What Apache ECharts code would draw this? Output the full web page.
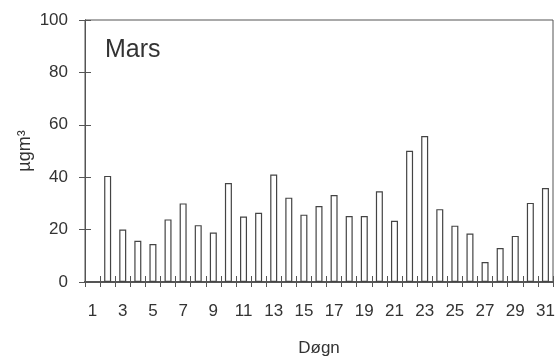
<!DOCTYPE html>
<html>
<head>
<meta charset="utf-8">
<script src="https://cdn.jsdelivr.net/npm/echarts@6/dist/echarts.min.js"></script>
<style>html,body{margin:0;padding:0;background:#fff}#c{width:559px;height:356px}</style>
</head>
<body>
<div id="c"></div>
<script>
const days = ['1','2','3','4','5','6','7','8','9','10','11','12','13','14','15','16','17','18','19','20','21','22','23','24','25','26','27','28','29','30','31'];
const values = [null, 40.5, 20, 15.7, 14.5, 23.9, 30, 21.7, 18.9, 37.8, 25, 26.4, 41, 32.2, 25.7, 29, 33.2, 25.2, 25.2, 34.6, 23.4, 50.1, 55.7, 27.8, 21.5, 18.5, 7.6, 13, 17.6, 30.2, 35.9];
const yTicks = [0, 20, 40, 60, 80, 100];
const title = 'Mars';
const xName = 'Døgn';
const yName = 'µgm³';

const font = 'Liberation Sans, Arial, Helvetica, sans-serif';
const axisColor = '#555';
const textColor = '#333';
const chart = echarts.init(document.getElementById('c'), null, {renderer: 'canvas'});
chart.setOption({
  animation: false,
  backgroundColor: '#fff',
  title: {
    text: title, left: 100, top: 33,
    textStyle: {fontFamily: font, fontSize: 25, fontWeight: 'normal', color: textColor}
  },
  grid: {left: 85, right: 6, top: 20, bottom: 74, containLabel: false, outerBoundsMode: 'none',
    show: true, borderColor: axisColor, borderWidth: 1, backgroundColor: 'transparent'},
  xAxis: [{
    type: 'category', data: days, boundaryGap: true,
    name: xName, nameLocation: 'middle', nameGap: 58, nameMoveOverlap: false,
    nameTextStyle: {fontFamily: font, fontSize: 17, color: textColor},
    axisLine: {show: true, lineStyle: {color: axisColor, width: 2}},
    axisTick: {show: true, inside: false, length: 5, alignWithLabel: false, interval: 0, lineStyle: {color: axisColor}},
    axisLabel: {interval: 1, margin: 21, fontFamily: font, fontSize: 17, color: textColor}
  }, {
    type: 'category', data: days, boundaryGap: true, position: 'bottom', offset: 0,
    axisLine: {show: true, lineStyle: {color: axisColor, width: 2}},
    axisTick: {show: true, inside: true, length: 6, interval: 0, lineStyle: {color: axisColor}},
    axisLabel: {show: false}
  }],
  yAxis: [{
    type: 'value', min: yTicks[0], max: yTicks[yTicks.length - 1], interval: 20,
    name: yName, nameLocation: 'middle', nameGap: 51, nameRotate: 90, nameMoveOverlap: false,
    nameTextStyle: {fontFamily: font, fontSize: 18, color: textColor},
    splitLine: {show: false},
    axisLine: {show: true, lineStyle: {color: axisColor, width: 1}},
    axisTick: {show: true, inside: true, length: 6, lineStyle: {color: axisColor}},
    axisLabel: {margin: 17, fontFamily: font, fontSize: 17, color: textColor}
  }, {
    type: 'value', min: yTicks[0], max: yTicks[yTicks.length - 1], interval: 20, position: 'left', offset: 0,
    splitLine: {show: false},
    axisLine: {show: true, lineStyle: {color: axisColor, width: 1}},
    axisTick: {show: true, inside: false, length: 6, lineStyle: {color: axisColor}},
    axisLabel: {show: false}
  }],
  series: [{
    type: 'bar', data: values, barWidth: 7, xAxisIndex: 0, yAxisIndex: 0,
    itemStyle: {color: '#fff', borderColor: '#444', borderWidth: 1.2}
  }]
});
</script>
</body>
</html>
